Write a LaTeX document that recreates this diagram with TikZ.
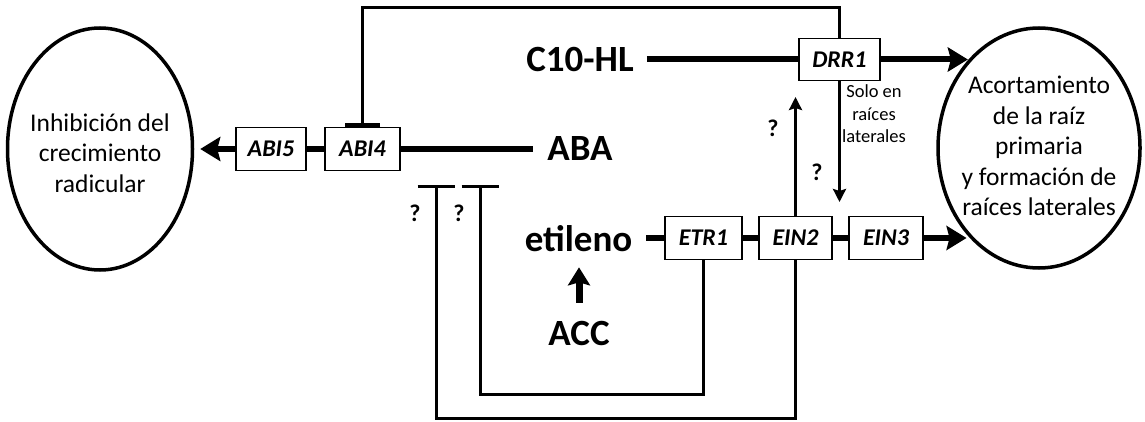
\documentclass[tikz,border=0pt]{standalone}
\usepackage{fontspec}
\setmainfont{Carlito}
\usetikzlibrary{arrows.meta,shapes.geometric,calc}
\begin{document}
\begin{tikzpicture}[x=1pt,y=-1pt,
  thk/.style={line width=6pt},
  thn/.style={line width=3pt},
  gene/.style={draw, line width=1.6pt, minimum height=43pt, inner sep=0pt,
    font=\fontsize{24}{24}\selectfont\bfseries\itshape},
  ovalshape/.style={draw, ellipse, line width=3.5pt, inner sep=0pt},
  ovaltext/.style={align=center, inner sep=0pt, font=\fontsize{25.5}{30.5}\selectfont},
  big/.style={font=\fontsize{37}{37}\selectfont\bfseries, inner sep=0pt},
  qm/.style={font=\fontsize{24}{24}\selectfont\bfseries, inner sep=0pt},
  note/.style={align=center, inner sep=0pt, font=\fontsize{18.5}{22.5}\selectfont},
  bigarrow/.style={thk, -{Stealth[width=24pt,length=20pt,inset=3pt]}},
  accarrow/.style={line width=7pt, -{Stealth[width=22pt,length=18pt,inset=3pt]}},
  thinarrow/.style={thn, -{Stealth[width=13pt,length=13pt,inset=2pt]}},
  inhib/.style={thn, -{Bar[width=37pt,line width=3.5pt]}}
]
\useasboundingbox (0,0) rectangle (1145,422);

% ellipses
\node[ovalshape, minimum width=185pt, minimum height=242pt] (inh) at (100,149) {};
\node[ovaltext] (inhtxt) at (100,153) {Inhibición del\\crecimiento\\radicular};
\node[ovalshape, minimum width=202pt, minimum height=240pt] (acort) at (1039,148) {};
\node[ovaltext] (acorttxt) at (1039,146) {Acortamiento\\de la raíz\\primaria\\y formación de\\raíces laterales};

% gene boxes
\node[gene, minimum width=70pt] (abi5) at (271,149) {ABI5};
\node[gene, minimum width=75pt] (abi4) at (362.5,149) {ABI4};
\node[gene, minimum width=81pt, minimum height=42pt] (drr1) at (839.5,59.5) {DRR1};
\node[gene, minimum width=77pt] (etr1) at (703.5,238) {ETR1};
\node[gene, minimum width=73pt] (ein2) at (795.5,238) {EIN2};
\node[gene, minimum width=74pt] (ein3) at (886,238) {EIN3};

% big labels
\node[big] (c10) at (580,59.5) {C10-HL};
\node[big] (aba) at (580,149) {ABA};
\node[big] (eti) at (578.5,239) {etileno};
\node[big] (acc) at (579,333) {ACC};

% question marks and note
\node[qm] (q1) at (415,213) {?};
\node[qm] (q2) at (459,213) {?};
\node[qm] (q3) at (773,128) {?};
\node[qm] (q4) at (817,172) {?};
\node[note] (solo) at (874,114) {Solo en\\raíces\\laterales};

% helper coordinates
\coordinate (tl) at (362.5,8);
\coordinate (tr) at (839.5,8);
\coordinate (i1) at (703.5,394);
\coordinate (i2) at (480,394);
\coordinate (i3) at (480,185);
\coordinate (o1) at (795.5,418);
\coordinate (o2) at (436,418);
\coordinate (o3) at (436,185);
\coordinate (upend) at (795.5,97);
\coordinate (dnend) at (839.5,202);

% thick connectors
\draw[thk, shorten <=13pt] (c10) -- (drr1);
\draw[thk] (abi5) -- (abi4);
\draw[thk, shorten >=14pt] (abi4) -- (aba);
\draw[thk, shorten <=14pt] (eti.east |- etr1.west) -- (etr1.west);
\draw[thk] (etr1) -- (ein2);
\draw[thk] (ein2) -- (ein3);

% arrows to ellipses
\draw[bigarrow] (drr1.east) -- (drr1.east -| acort.129);
\draw[bigarrow] (ein3.east) -- (ein3.east -| acort.230);
\draw[bigarrow, shorten >=6pt] (abi5.west) -- (abi5.west -| inh.east);

% ACC -> etileno
\draw[accarrow, shorten <=18pt, shorten >=15pt] (acc.north) -- (acc.north |- eti.south);

% inhibition DRR1 -| ABI4
\draw[thn, -{Bar[width=35pt,line width=4pt]}] (drr1.north) -- (tr) -- (tl) -- (abi4.north);

% feedback loops
\draw[inhib] (etr1.south) -- (i1) -- (i2) -- (i3);
\draw[inhib] (ein2.south) -- (o1) -- (o2) -- (o3);

% thin arrows
\draw[thinarrow] (ein2.north) -- (upend);
\draw[thinarrow] (drr1.south) -- (dnend);
\end{tikzpicture}
\end{document}
